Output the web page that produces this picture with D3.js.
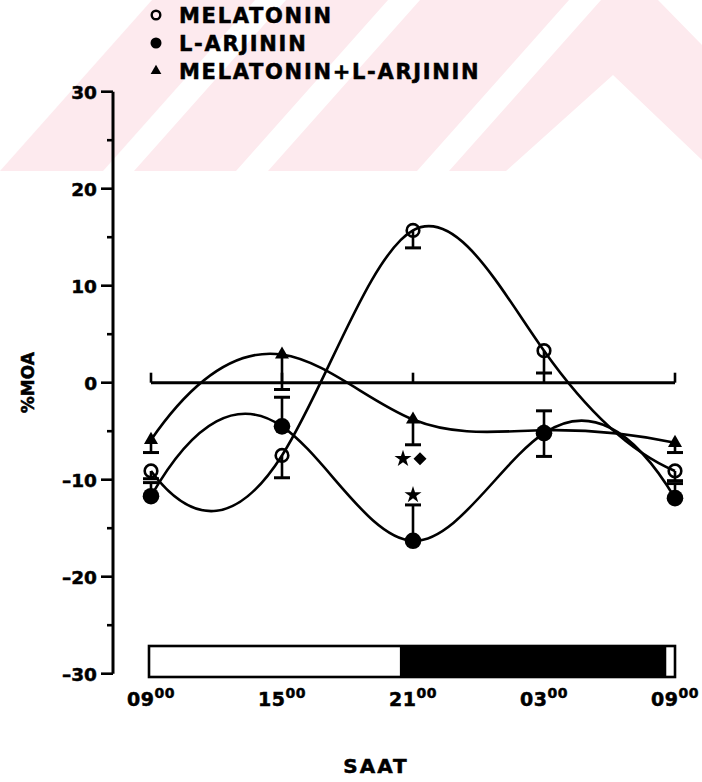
<!DOCTYPE html>
<html>
<head>
<meta charset="utf-8">
<script src="https://cdn.jsdelivr.net/npm/d3@7"></script>
<style>
  html, body { margin: 0; padding: 0; background: #fff; }
  svg { display: block; }
  text { font-family: "DejaVu Sans", "Liberation Sans", sans-serif; font-weight: bold; fill: #000;
         stroke: #000; stroke-width: 0.5; }
</style>
</head>
<body>
<svg id="chart" width="702" height="782"></svg>
<script>
// Sampling times, in hours after 09:00
const hours = [0, 6, 12, 18, 24];
const hourLabels = ["09", "15", "21", "03", "09"];

// Mean change (%) for each group and the end of its error bar
const melatonin      = [-9.1, -7.5, 15.7, 3.3, -9.1];
const melatoninErr   = [-9.9, -9.8, 13.9, 1.0, -10.1];
const larjinin       = [-11.7, -4.5, -16.3, -5.2, -11.9];
const larjininErr    = [-10.3, -1.5, -12.6, -2.9, -10.4];
const combination    = [-5.9, 2.9, -3.8, -4.9, -6.2];
const combinationErr = [-7.2, -0.7, -6.4, -7.6, -7.2];

// Y axis
const yTicksMajor = [-30, -20, -10, 0, 10, 20, 30];
const yTicksMinor = [-25, -15, -5, 5, 15, 25];

// Dark phase of the light/dark cycle, hours after 09:00
const darkStart = 11.4;
const darkEnd = 23.6;

// Significance marks at 21:00
const marks = [
  { group: "combination", hour: 12, symbols: ["star", "diamond"] },
  { group: "larjinin", hour: 12, symbols: ["star"] }
];

const legendItems = [
  { label: "MELATONIN", shape: "open" },
  { label: "L-ARJININ", shape: "filled" },
  { label: "MELATONIN+L-ARJININ", shape: "triangle" }
];

// Cubic spline with parabolic run-out ends (end second derivatives equal their neighbours)
function RunoutSpline(context) { this._context = context; }
RunoutSpline.prototype = {
  areaStart() { this._line = 0; },
  areaEnd() { this._line = NaN; },
  lineStart() { this._x = []; this._y = []; },
  point(x, y) { this._x.push(+x); this._y.push(+y); },
  lineEnd() {
    const xs = this._x, ys = this._y, n = xs.length, ctx = this._context;
    if (!n) return;
    ctx.moveTo(xs[0], ys[0]);
    if (n === 2) { ctx.lineTo(xs[1], ys[1]); return; }
    const h = d3.range(n - 1).map(i => xs[i + 1] - xs[i]);
    const m = n - 2;
    const a = [], b = [], c = [], r = [];
    for (let k = 0; k < m; k++) {
      const i = k + 1;
      a[k] = h[i - 1]; b[k] = 2 * (h[i - 1] + h[i]); c[k] = h[i];
      r[k] = 6 * ((ys[i + 1] - ys[i]) / h[i] - (ys[i] - ys[i - 1]) / h[i - 1]);
    }
    b[0] += a[0]; a[0] = 0;
    b[m - 1] += c[m - 1]; c[m - 1] = 0;
    for (let k = 1; k < m; k++) {
      const w = a[k] / b[k - 1];
      b[k] -= w * c[k - 1]; r[k] -= w * r[k - 1];
    }
    const M = new Array(n).fill(0);
    M[m] = r[m - 1] / b[m - 1];
    for (let k = m - 2; k >= 0; k--) M[k + 1] = (r[k] - c[k] * M[k + 2]) / b[k];
    M[0] = M[1]; M[n - 1] = M[n - 2];
    for (let i = 0; i < n - 1; i++) {
      const hi = h[i], d = (ys[i + 1] - ys[i]) / hi;
      const s0 = d - hi * (2 * M[i] + M[i + 1]) / 6;
      const s1 = d + hi * (M[i] + 2 * M[i + 1]) / 6;
      ctx.bezierCurveTo(xs[i] + hi / 3, ys[i] + s0 * hi / 3,
                        xs[i + 1] - hi / 3, ys[i + 1] - s1 * hi / 3,
                        xs[i + 1], ys[i + 1]);
    }
  }
};
const curveRunout = ctx => new RunoutSpline(ctx);

const svg = d3.select("#chart");
const x = d3.scaleLinear().domain([0, 24]).range([151, 675]);
const y = d3.scaleLinear().domain([-30, 30]).range([673.7, 91.7]);
const axisX = 113;

// Faint pink diagonal band across the top
const wm = svg.append("g").attr("fill", "#fdeaee");
[
  [[0, 171], [103, 171], [255, 0], [152, 0]],
  [[134, 171], [236, 171], [388, 0], [286, 0]],
  [[268, 171], [417, 171], [569, 0], [420, 0]],
  [[449, 171], [506, 171], [613, 75], [702, 160], [702, 45], [658, 0], [601, 0]]
].forEach(p => wm.append("polygon").attr("points", p.map(q => q.join(",")).join(" ")));

const line = d3.line().x((d, i) => x(hours[i])).y(d => y(d)).curve(curveRunout);
const sw = 2.6;

// Y axis line and ticks
svg.append("line").attr("x1", axisX).attr("x2", axisX).attr("y1", y(30)).attr("y2", y(-30))
  .attr("stroke", "#000").attr("stroke-width", 3);
svg.selectAll(".tmaj").data(yTicksMajor).enter().append("line")
  .attr("x1", axisX - 12).attr("x2", axisX).attr("y1", d => y(d)).attr("y2", d => y(d))
  .attr("stroke", "#000").attr("stroke-width", 2.6);
svg.selectAll(".tmin").data(yTicksMinor).enter().append("line")
  .attr("x1", axisX - 6).attr("x2", axisX).attr("y1", d => y(d)).attr("y2", d => y(d))
  .attr("stroke", "#000").attr("stroke-width", 2.6);
svg.selectAll(".ylab").data(yTicksMajor).enter().append("text")
  .attr("x", axisX - 16).attr("y", d => y(d) + 7)
  .attr("text-anchor", "end").attr("font-size", 18.5)
  .text(d => d < 0 ? "\u2013" + Math.abs(d) : d);

svg.append("text")
  .attr("transform", `translate(34, ${y(0)}) rotate(-90)`)
  .attr("text-anchor", "middle").attr("font-size", 17)
  .text("%MOA");

// Zero reference line with ticks at each sampling time
svg.append("line").attr("x1", x(0)).attr("x2", x(24)).attr("y1", y(0)).attr("y2", y(0))
  .attr("stroke", "#000").attr("stroke-width", 3);
svg.selectAll(".zt").data(hours).enter().append("line")
  .attr("x1", d => x(d)).attr("x2", d => x(d)).attr("y1", y(0)).attr("y2", y(0) - 10)
  .attr("stroke", "#000").attr("stroke-width", 2.6);

// Fitted curves
[melatonin, larjinin, combination].forEach(s => {
  svg.append("path").attr("d", line(s)).attr("fill", "none")
    .attr("stroke", "#000").attr("stroke-width", sw);
});

// Error bars
function errorBars(vals, ends) {
  vals.forEach((v, i) => {
    const cx = x(hours[i]);
    svg.append("line").attr("x1", cx).attr("x2", cx).attr("y1", y(v)).attr("y2", y(ends[i]))
      .attr("stroke", "#000").attr("stroke-width", sw);
    svg.append("line").attr("x1", cx - 8).attr("x2", cx + 8).attr("y1", y(ends[i])).attr("y2", y(ends[i]))
      .attr("stroke", "#000").attr("stroke-width", 3);
  });
}
errorBars(combination, combinationErr);
errorBars(melatonin, melatoninErr);
errorBars(larjinin, larjininErr);

// Markers
const tri = d3.symbol().type(d3.symbolTriangle).size(85);
combination.forEach((v, i) => {
  svg.append("path").attr("d", tri()).attr("transform", `translate(${x(hours[i])},${y(v)})`).attr("fill", "#000");
});
melatonin.forEach((v, i) => {
  svg.append("circle").attr("cx", x(hours[i])).attr("cy", y(v)).attr("r", 6.3)
    .attr("fill", "none").attr("stroke", "#000").attr("stroke-width", 2.6);
});
larjinin.forEach((v, i) => {
  svg.append("circle").attr("cx", x(hours[i])).attr("cy", y(v)).attr("r", 8.3).attr("fill", "#000");
});

// Significance marks
const star = d3.symbol().type(d3.symbolStar).size(90);
const diamond = d3.symbol().type(d3.symbolSquare).size(85);
marks.forEach(m => {
  const idx = hours.indexOf(m.hour);
  const cx = x(m.hour);
  if (m.group === "combination") {
    const cy = y(combinationErr[idx]) + 14;
    svg.append("path").attr("d", star()).attr("transform", `translate(${cx - 10},${cy})`).attr("fill", "#000");
    svg.append("path").attr("d", diamond()).attr("transform", `translate(${cx + 7},${cy}) rotate(45)`).attr("fill", "#000");
  } else {
    const cy = y(larjininErr[idx]) - 10;
    svg.append("path").attr("d", star()).attr("transform", `translate(${cx},${cy})`).attr("fill", "#000");
  }
});

// Light/dark bar
const barTop = 646, barH = 31;
svg.append("rect").attr("x", x(0) - 2).attr("y", barTop).attr("width", x(24) - x(0) + 2).attr("height", barH)
  .attr("fill", "#fff").attr("stroke", "#000").attr("stroke-width", 2.6);
svg.append("rect").attr("x", x(darkStart)).attr("y", barTop).attr("width", x(darkEnd) - x(darkStart)).attr("height", barH)
  .attr("fill", "#000");

// Time labels
const xl = svg.selectAll(".xl").data(hours).enter().append("text")
  .attr("x", d => x(d)).attr("y", 706).attr("text-anchor", "middle").attr("font-size", 19)
  .attr("letter-spacing", 0.5);
xl.append("tspan").text((d, i) => hourLabels[i]);
xl.append("tspan").attr("dy", -8).attr("font-size", 14).text("00");

svg.append("text").attr("x", 376).attr("y", 773).attr("text-anchor", "middle")
  .attr("font-size", 20).attr("letter-spacing", 2).text("SAAT");

// Legend
const lg = svg.append("g");
legendItems.forEach((it, i) => {
  const cy = 15 + i * 28;
  if (it.shape === "open") {
    lg.append("circle").attr("cx", 156).attr("cy", cy).attr("r", 4.3).attr("fill", "none").attr("stroke", "#000").attr("stroke-width", 2.4);
  } else if (it.shape === "filled") {
    lg.append("circle").attr("cx", 156).attr("cy", cy).attr("r", 5.5).attr("fill", "#000");
  } else {
    lg.append("path").attr("d", d3.symbol().type(d3.symbolTriangle).size(50)()).attr("transform", `translate(156,${cy})`).attr("fill", "#000");
  }
  lg.append("text").attr("x", 179).attr("y", cy + 8).attr("font-size", 21).attr("letter-spacing", 1.7).text(it.label);
});
</script>
</body>
</html>
